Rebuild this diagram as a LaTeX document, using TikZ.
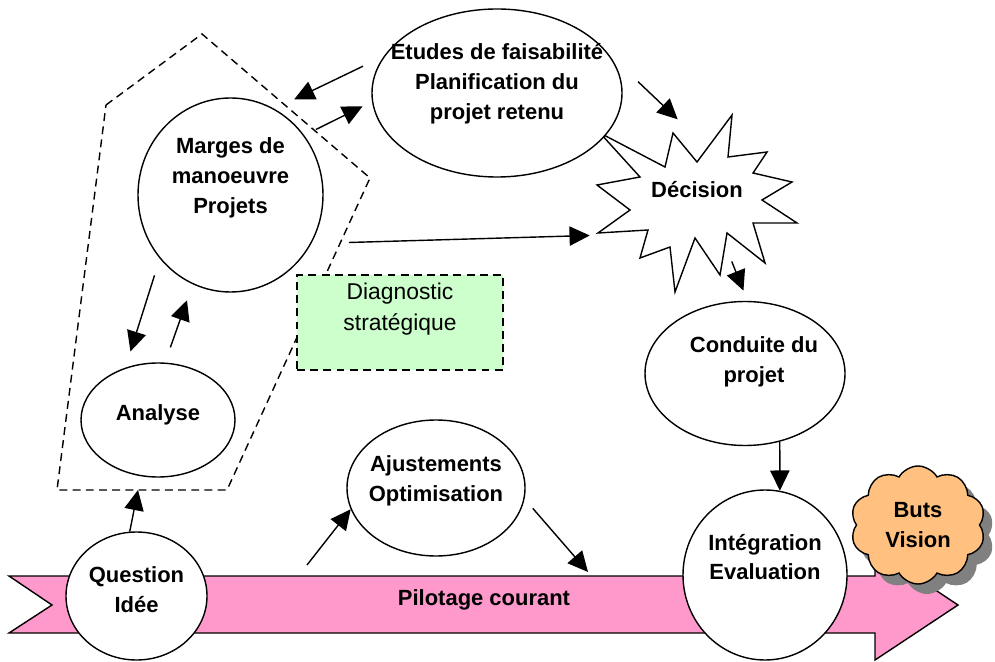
\documentclass[tikz,border=0pt]{standalone}
\usepackage{fontspec}
\setmainfont{Liberation Sans}
\usetikzlibrary{shapes.geometric, shapes.symbols, arrows.meta, shadows}

\definecolor{pilotpink}{RGB}{255,153,204}
\definecolor{diaggreen}{RGB}{204,255,204}
\definecolor{butsorange}{RGB}{255,192,128}

\begin{document}
\begin{tikzpicture}[>={Triangle[length=11.5pt,width=11pt]}, line width=0.8pt,
    bub/.style={ellipse, draw, fill=white, inner sep=0pt},
    bubtext/.style={align=center, font=\bfseries\fontsize{12.5}{17}\selectfont},
    zone/.style={dash pattern=on 4.5pt off 3pt},
    diag/.style={draw, fill=diaggreen, dash pattern=on 4.5pt off 3pt,
        minimum width=4.12cm, minimum height=1.90cm},
    diagtext/.style={align=center, font=\fontsize{13}{18}\selectfont},
    cloudbox/.style={cloud, cloud puffs=10, cloud puff arc=120, aspect=1.15, draw,
        fill=butsorange, inner sep=0pt, minimum width=2.7cm, minimum height=2.36cm,
        align=center, font=\bfseries\fontsize{12.5}{17}\selectfont,
        drop shadow={shadow xshift=0.18cm, shadow yshift=-0.2cm, fill=black!50, opacity=1}}]

    \useasboundingbox (0,0) rectangle (19.9,13.22);

    % bande du pilotage courant
    \draw[fill=pilotpink] (0.18,1.70) -- (17.50,1.70) -- (17.50,2.22) -- (19.16,1.12)
        -- (17.50,0.02) -- (17.50,0.56) -- (0.18,0.56) -- (1.04,1.12) -- cycle;
    \node[bubtext] (pil) at (9.68,1.22) {Pilotage courant};

    % zone en pointilles
    \draw[zone] (2.12,11.12) -- (4.04,12.54) -- (7.40,9.66) -- (4.54,3.42)
        -- (1.14,3.42) -- cycle;
    \coordinate (zb) at (2.76,3.42);

    \node[diag, label={[diagtext, yshift=0.27cm]center:Diagnostic\\stratégique}] (dia) at (8.00,6.77) {};

    % explosion de la decision
    \draw (12.00,10.56) -- (13.30,9.88) -- (13.46,10.56) -- (13.94,9.98) -- (14.64,10.92)
        -- (14.56,10.08) -- (15.34,10.18) -- (15.06,9.76) -- (15.84,9.58) -- (15.24,9.22)
        -- (15.94,8.76) -- (15.06,8.76) -- (15.30,7.96) -- (14.54,8.56) -- (14.40,7.72)
        -- (13.90,8.46) -- (13.50,7.38) -- (13.40,8.28) -- (12.80,8.06) -- (12.96,8.62)
        -- (11.96,8.56) -- (12.60,9.02) -- (11.94,9.52) -- (12.80,9.68) -- cycle;

    \node[bub, minimum width=2.82cm, minimum height=2.56cm,
        label={[bubtext, yshift=0.12cm]center:Question\\Idée}] (que) at (2.73,1.30) {};
    \node[bub, minimum width=3.08cm, minimum height=2.28cm,
        label={[bubtext, yshift=0.1cm]center:Analyse}] (ana) at (3.16,4.82) {};
    \node[bub, minimum width=3.70cm, minimum height=3.88cm,
        label={[bubtext, yshift=0.34cm]center:Marges de\\manoeuvre\\Projets}] (mar) at (4.61,9.32) {};
    \node[bub, minimum width=5.00cm, minimum height=3.36cm,
        label={[bubtext, yshift=0.18cm]center:Etudes de faisabilité\\Planification du\\projet retenu}] (etu) at (9.94,11.36) {};
    \node[ellipse, bubtext, minimum width=3cm, minimum height=2.4cm] (dec) at (13.94,9.42) {Décision};
    \node[bub, minimum width=4.0cm, minimum height=2.88cm,
        label={[bubtext, xshift=0.18cm, yshift=0.23cm]center:Conduite du\\projet}] (con) at (14.90,5.75) {};
    \node[bub, minimum width=3.28cm, minimum height=3.40cm,
        label={[bubtext, yshift=0.36cm]center:Intégration\\Evaluation}] (int) at (15.30,1.72) {};
    \node[bub, minimum width=3.56cm, minimum height=2.72cm,
        label={[bubtext, yshift=0.14cm]center:Ajustements\\Optimisation}] (aju) at (8.72,3.46) {};
    \node[cloudbox] (but) at (18.36,2.72) {Buts\\Vision};

    \coordinate (b1) at (6.14,1.92);
    \coordinate (b2) at (11.76,1.78);

    \path[->] (etu.162) edge[shorten <=0.46cm, shorten >=0.44cm] (mar.63)
        (mar.39) edge[shorten <=0.26cm, shorten >=0.21cm] (etu.184)
        (etu.20) edge[shorten <=0.84cm, shorten >=0.3cm] (dec.98)
        (mar.329) edge[shorten <=0.75cm, shorten >=1.1cm] (dec.220)
        (dec.297) edge[shorten <=0.33cm, shorten >=0.22cm] (con.88)
        (con.297) edge (int.80)
        (mar.222) edge[shorten <=0.35cm, shorten >=0.34cm] (ana.122)
        (ana.83) edge[shorten <=0.32cm, shorten >=0.34cm] (mar.247)
        (que.96) edge (zb)
        (b1) edge (aju.194)
        (aju.353) edge[shorten <=0.25cm] (b2);

\end{tikzpicture}
\end{document}
